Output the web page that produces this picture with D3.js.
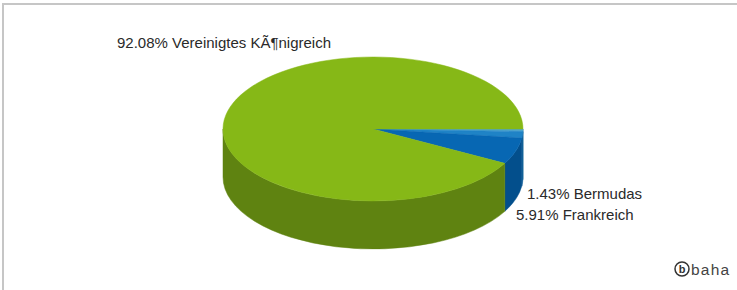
<!DOCTYPE html>
<html>
<head>
<meta charset="utf-8">
<script src="https://cdn.jsdelivr.net/npm/d3@7/dist/d3.min.js"></script>
<style>
  body { margin: 0; background: #fff; }
  svg text { font-family: "Liberation Sans", Arial, sans-serif; }
</style>
</head>
<body>
<div id="chart"></div>
<script>
// data, in drawing order starting at 3 o'clock, clockwise
var names = ["Sonstige", "Bermudas", "Frankreich", "Vereinigtes KÃ¶nigreich"];
var shares = [0.58, 1.43, 5.91, 92.08];
var topColors = ["#4da3cc", "#1f83c6", "#0767b3", "#86b817"];
var sideColors = ["#2f7aa0", "#10609a", "#034f8c", "#5f8311"];
var labelled = [false, true, true, true];

var width = 737, height = 290;
var cx = 373, cy = 129, rx = 150, ry = 72, depth = 48;

var svg = d3.select("#chart").append("svg")
    .attr("width", width)
    .attr("height", height);

// frame
svg.append("rect")
    .attr("x", 3)
    .attr("y", 4)
    .attr("width", width + 10)
    .attr("height", height + 10)
    .attr("fill", "none")
    .attr("stroke", "#c6c6c6")
    .attr("stroke-width", 2);

var data = names.map(function (d, i) {
    return {name: d, value: shares[i], top: topColors[i], side: sideColors[i], label: labelled[i]};
});

// d3 angles start at 12 o'clock; shift so that 0 sits at 3 o'clock
var pie = d3.pie()
    .sort(null)
    .value(function (d) { return d.value; })
    .startAngle(Math.PI / 2)
    .endAngle(Math.PI / 2 + 2 * Math.PI);

var arcs = pie(data);

function px(t) { return cx + rx * Math.cos(t); }
function py(t, dy) { return cy + (dy || 0) + ry * Math.sin(t); }

function topPath(t0, t1) {
    var large = (t1 - t0) > Math.PI ? 1 : 0;
    return "M" + cx + "," + cy +
        "L" + px(t0) + "," + py(t0) +
        "A" + rx + "," + ry + " 0 " + large + " 1 " + px(t1) + "," + py(t1) + "Z";
}

function sidePath(t0, t1) {
    // only the front half of the rim is visible
    var a = Math.max(t0, 0), b = Math.min(t1, Math.PI);
    if (b <= a) return null;
    return "M" + px(a) + "," + py(a) +
        "A" + rx + "," + ry + " 0 0 1 " + px(b) + "," + py(b) +
        "L" + px(b) + "," + py(b, depth) +
        "A" + rx + "," + ry + " 0 0 0 " + px(a) + "," + py(a, depth) + "Z";
}

arcs.forEach(function (d) {
    d.t0 = d.startAngle - Math.PI / 2;
    d.t1 = d.endAngle - Math.PI / 2;
    d.mid = (d.t0 + d.t1) / 2;
});

var g = svg.append("g");

g.selectAll(".side")
    .data(arcs.filter(function (d) { return sidePath(d.t0, d.t1); }))
    .enter().append("path")
    .attr("class", "side")
    .attr("d", function (d) { return sidePath(d.t0, d.t1); })
    .attr("fill", function (d) { return d.data.side; })
    .attr("stroke", function (d) { return d.data.side; })
    .attr("stroke-width", 0.5);

g.selectAll(".top")
    .data(arcs)
    .enter().append("path")
    .attr("class", "top")
    .attr("d", function (d) { return topPath(d.t0, d.t1); })
    .attr("fill", function (d) { return d.data.top; })
    .attr("stroke", function (d) { return d.data.top; })
    .attr("stroke-width", 0.5);

// labels: small slices stacked below the right end of the rim,
// the big one above the upper left of the disc
var fmt = d3.format(".2f");
var rimX = px(0), rimY = py(0, depth);
var labelPos = {
    "Bermudas": [rimX + 4, rimY + 22],
    "Frankreich": [rimX - 7, rimY + 43],
    "Vereinigtes KÃ¶nigreich": [cx - 256, cy - 81]
};

g.selectAll(".label")
    .data(arcs.filter(function (d) { return d.data.label; }))
    .enter().append("text")
    .attr("class", "label")
    .attr("x", function (d) { return labelPos[d.data.name][0]; })
    .attr("y", function (d) { return labelPos[d.data.name][1]; })
    .attr("font-size", "15px")
    .attr("fill", "#2a2a2a")
    .text(function (d) { return fmt(d.data.value) + "% " + d.data.name; });

// logo
var logo = svg.append("g").attr("transform", "translate(682,269)");
logo.append("circle")
    .attr("r", 7)
    .attr("fill", "none")
    .attr("stroke", "#333")
    .attr("stroke-width", 1.5);
logo.append("text")
    .attr("x", 0)
    .attr("y", 4)
    .attr("text-anchor", "middle")
    .attr("font-size", "11px")
    .attr("font-weight", "bold")
    .attr("fill", "#333")
    .text("b");
logo.append("text")
    .attr("x", 9)
    .attr("y", 5.5)
    .attr("font-size", "15.5px")
    .attr("letter-spacing", "1.2px")
    .attr("fill", "#444")
    .text("baha");
</script>
</body>
</html>
